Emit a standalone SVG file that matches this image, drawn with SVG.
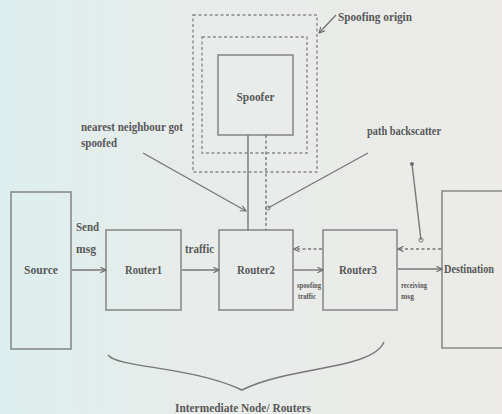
<svg xmlns="http://www.w3.org/2000/svg" width="502" height="414" viewBox="0 0 502 414">
<defs>
<linearGradient id="bg" x1="0" y1="0" x2="1" y2="0">
<stop offset="0" stop-color="#dcefee"/>
<stop offset="0.35" stop-color="#e7ecea"/>
<stop offset="1" stop-color="#ecebe8"/>
</linearGradient>
<marker id="ah" viewBox="0 0 10 10" refX="9" refY="5" markerWidth="7" markerHeight="7" orient="auto-start-reverse" markerUnits="userSpaceOnUse">
<path d="M1,1 L9,5 L1,9" fill="none" stroke="#707070" stroke-width="1.6"/>
</marker>
<marker id="dot" viewBox="0 0 10 10" refX="5" refY="5" markerWidth="6" markerHeight="6" markerUnits="userSpaceOnUse">
<circle cx="5" cy="5" r="3.5" fill="none" stroke="#707070" stroke-width="1.5"/>
</marker>
<marker id="sdot" viewBox="0 0 10 10" refX="5" refY="5" markerWidth="5" markerHeight="5" markerUnits="userSpaceOnUse">
<circle cx="5" cy="5" r="4" fill="#707070"/>
</marker>
</defs>
<style>
.box{fill:none;stroke:#8a8a8a;stroke-width:1.6}
.dbox{fill:none;stroke:#8a8a8a;stroke-width:1.4;stroke-dasharray:3 2.5}
text{font-family:'Liberation Serif','DejaVu Serif',serif;fill:#585858}
.t{font-size:12px;font-weight:bold}
.s{font-size:8px;font-weight:bold}
.ln{fill:none;stroke:#777;stroke-width:1.4}
.dl{fill:none;stroke:#777;stroke-width:1.4;stroke-dasharray:3 2.5}
</style>
<rect x="0" y="0" width="502" height="414" fill="url(#bg)"/>

<g id="spoofing-origin">
<rect class="dbox" x="193" y="15" width="124" height="157"/>
<rect class="dbox" x="202" y="37" width="105" height="116"/>
<text class="t" x="338" y="21" font-size="11" textLength="74" lengthAdjust="spacingAndGlyphs">Spoofing origin</text>
</g>
<g id="spoofer">
<rect class="box" x="218" y="55" width="75" height="80"/>
<text class="t" x="255.5" y="101" text-anchor="middle" font-size="13" textLength="38" lengthAdjust="spacingAndGlyphs">Spoofer</text>
</g>
<g id="source">
<rect class="box" x="11" y="192" width="60" height="157"/>
<text class="t" x="41" y="274" text-anchor="middle" textLength="34" lengthAdjust="spacingAndGlyphs">Source</text>
</g>
<g id="router1">
<rect class="box" x="106" y="230" width="75" height="80"/>
<text class="t" x="143.5" y="274" text-anchor="middle" textLength="37" lengthAdjust="spacingAndGlyphs">Router1</text>
</g>
<g id="router2">
<rect class="box" x="219" y="230" width="74" height="80"/>
<text class="t" x="256" y="274" text-anchor="middle" textLength="38" lengthAdjust="spacingAndGlyphs">Router2</text>
</g>
<g id="router3">
<rect class="box" x="323" y="230" width="74" height="80"/>
<text class="t" x="358" y="274" text-anchor="middle" textLength="38" lengthAdjust="spacingAndGlyphs">Router3</text>
</g>
<g id="destination">
<path class="box" d="M502,191 H442 V348 H502"/>
<text class="t" x="444" y="273" font-size="9.5" textLength="50" lengthAdjust="spacingAndGlyphs">Destination</text>
</g>

<g id="connectors">
<line class="ln" x1="72" y1="270" x2="106" y2="270" marker-end="url(#ah)"/>
<line class="ln" x1="182" y1="270" x2="219" y2="270" marker-end="url(#ah)"/>
<line class="ln" x1="294" y1="270" x2="323" y2="270" marker-end="url(#ah)"/>
<line class="ln" x1="398" y1="269" x2="442" y2="269" marker-end="url(#ah)"/>
<line class="dl" x1="322" y1="249" x2="294" y2="249" marker-end="url(#ah)"/>
<line class="dl" x1="441" y1="249" x2="398" y2="249" marker-end="url(#ah)"/>
<line class="ln" x1="248" y1="135" x2="248" y2="230" stroke-width="1"/>
<line class="dl" x1="266" y1="135" x2="266" y2="230"/>
<line class="ln" x1="143" y1="153" x2="246" y2="211" marker-end="url(#ah)"/>
<line class="ln" x1="368" y1="153" x2="268" y2="208" marker-end="url(#dot)"/>
<line class="ln" x1="412" y1="164" x2="421" y2="240" marker-start="url(#sdot)" marker-end="url(#dot)"/>
<line class="ln" x1="336" y1="15" x2="319" y2="33" marker-end="url(#ah)"/>
<path class="ln" d="M108,355 C118,368 190,366 242,390 C290,366 372,370 384,342" stroke-width="1.6"/>
</g>

<g id="labels">
<text class="t" x="76" y="231" font-size="12.5" textLength="23" lengthAdjust="spacingAndGlyphs">Send</text>
<text class="t" x="76" y="253" font-size="12.5" textLength="20" lengthAdjust="spacingAndGlyphs">msg</text>
<text class="t" x="185" y="253" font-size="12.5" textLength="29" lengthAdjust="spacingAndGlyphs">traffic</text>
<text class="t" x="81" y="131" textLength="102" lengthAdjust="spacingAndGlyphs">nearest neighbour got</text>
<text class="t" x="81" y="147" textLength="36" lengthAdjust="spacingAndGlyphs">spoofed</text>
<text class="t" x="367" y="135" textLength="74" lengthAdjust="spacingAndGlyphs">path backscatter</text>
<text class="s" x="297" y="288" textLength="24" lengthAdjust="spacingAndGlyphs">spoofing</text>
<text class="s" x="298" y="299" textLength="18" lengthAdjust="spacingAndGlyphs">traffic</text>
<text class="s" x="401" y="288" textLength="26" lengthAdjust="spacingAndGlyphs">receiving</text>
<text class="s" x="401" y="299" textLength="13" lengthAdjust="spacingAndGlyphs">msg</text>
<text class="t" x="243" y="412" text-anchor="middle" font-size="11" textLength="136" lengthAdjust="spacingAndGlyphs">Intermediate Node/ Routers</text>
</g>
</svg>
